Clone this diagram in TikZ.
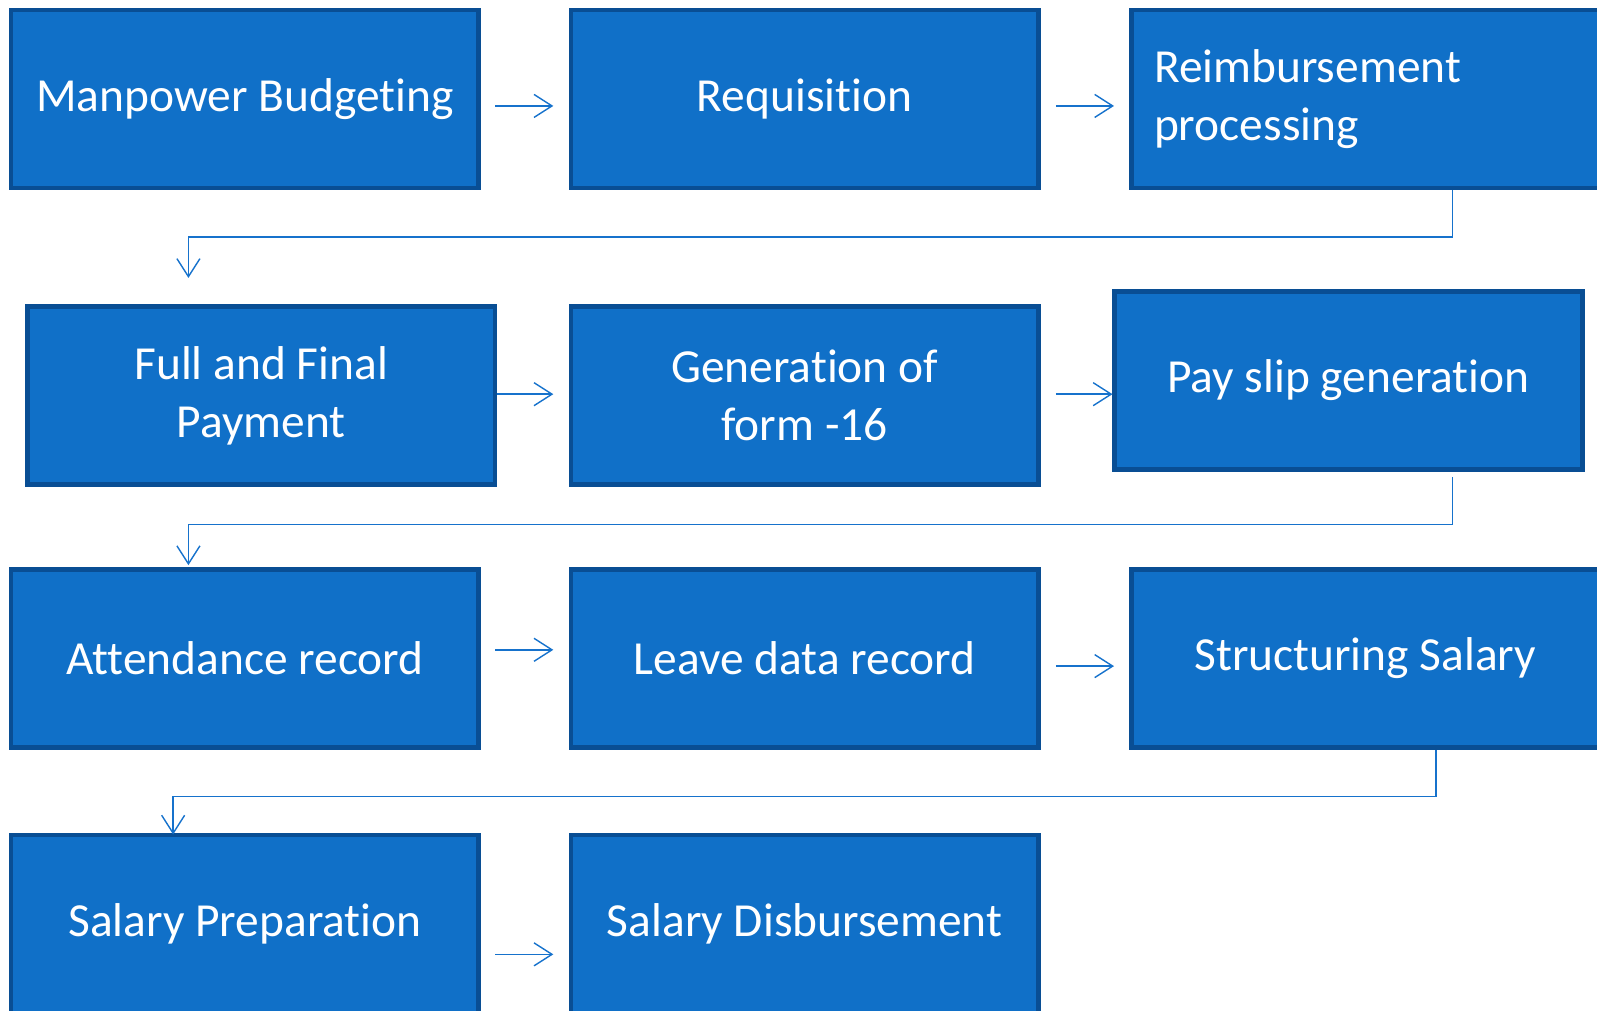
\documentclass[tikz,border=0pt]{standalone}
\usepackage{fontspec}
\setmainfont{Carlito}[Ligatures=NoCommon]
\usetikzlibrary{arrows.meta}

\definecolor{boxblue}{RGB}{16,112,200}
\definecolor{edgeblue}{RGB}{9,78,148}
\definecolor{lineblue}{RGB}{22,114,204}

\begin{document}
\begin{tikzpicture}[x=0.02037cm,y=-0.02037cm,
	stage/.style={draw=edgeblue,fill=boxblue,line width=2.6pt,text=white,
		minimum width=9.35cm,minimum height=3.56cm,align=center,
		font=\fontsize{27}{33}\selectfont},
	flow/.style={draw=lineblue,line width=0.8pt,-{Straight Barb[length=0.36cm,width=0.46cm]}}]
	\useasboundingbox (0,0) rectangle (1568,992);

	% first row
	\node[stage] (budget) at (240.5,97) {Manpower Budgeting};
	\node[stage] (requisition) at (790,97) {Requisition};
	\node[stage,text width=8.45cm,align=left] (reimburse) at (1340.5,97) {Reimbursement\\processing};

	% second row
	\node[stage] (final) at (256.5,388.5) {Full and Final\\Payment};
	\node[stage] (form) at (790,388.5) {Generation of\\form -16};
	\node[stage] (payslip) at (1324,373.5) {Pay slip generation};

	% third row
	\node[stage] (attendance) at (240.5,646.5) {Attendance record};
	\node[stage] (leave) at (790,646.5) {Leave data record};
	\node[stage] (structure) at (1340.5,646.5) {Structuring Salary};

	% fourth row
	\node[stage] (preparation) at (240.5,907) {Salary Preparation};
	\node[stage] (disburse) at (790,907) {Salary Disbursement};

	\draw[flow] ([shift={(14,7)}]budget.east) -- ([shift={(-15,7)}]requisition.west);
	\draw[flow] ([shift={(15,7)}]requisition.east) -- ([shift={(-15,7)}]reimburse.west);
	\draw[flow] ([shift={(85.5,0)}]reimburse.south) -- ++(0,46) -| ([shift={(-71.5,-26)}]final.north);

	\draw[flow] ([shift={(0,-1.5)}]final.east) -- ([shift={(-15,-1.5)}]form.west);
	\draw[flow] ([shift={(15,-1.5)}]form.east) -- ([shift={(0,13.5)}]payslip.west);
	\draw[flow] ([shift={(102,5)}]payslip.south) -- ++(0,47) -| ([shift={(-55.5,-2)}]attendance.north);

	\draw[flow] ([shift={(14,-8.5)}]attendance.east) -- ([shift={(-15,-8.5)}]leave.west);
	\draw[flow] ([shift={(15,7.5)}]leave.east) -- ([shift={(-15,7.5)}]structure.west);
	\draw[flow] ([shift={(69.5,0)}]structure.south) -- ++(0,46) -| ([shift={(-70.5,2)}]preparation.north);

	\draw[flow] ([shift={(14,30)}]preparation.east) -- ([shift={(-15,30)}]disburse.west);
\end{tikzpicture}
\end{document}
